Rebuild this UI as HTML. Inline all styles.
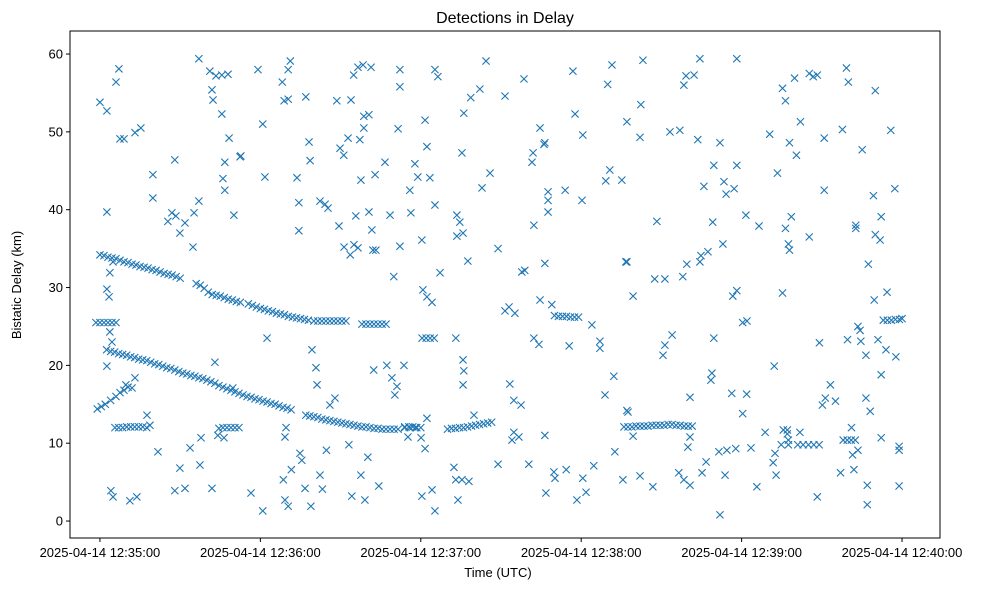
<!DOCTYPE html>
<html><head><meta charset="utf-8"><style>
html,body{margin:0;padding:0;background:#fff;}
svg{display:block;font-family:"Liberation Sans","DejaVu Sans",sans-serif;}
</style></head><body>
<svg id="chart" width="985" height="590" viewBox="0 0 985 590">
<rect x="0" y="0" width="985" height="590" fill="#fff"/>
<text x="505" y="23" text-anchor="middle" font-size="16" fill="#000">Detections in Delay</text>
<g id="marks"></g>
<rect x="70" y="31" width="870" height="507" fill="none" stroke="#000" stroke-width="1"/>
<g id="xticks"></g>
<g id="yticks"></g>
<text x="498" y="577" text-anchor="middle" font-size="13">Time (UTC)</text>
<text transform="translate(21,285) rotate(-90)" text-anchor="middle" font-size="13">Bistatic Delay (km)</text>
</svg>
<script>
// seconds after 12:35:00 UTC, delay in km
const xTickValues = [0, 60, 120, 180, 240, 300];
const xTickLabels = ["2025-04-14 12:35:00","2025-04-14 12:36:00","2025-04-14 12:37:00","2025-04-14 12:38:00","2025-04-14 12:39:00","2025-04-14 12:40:00"];
const yTickValues = [0, 10, 20, 30, 40, 50, 60];
const yTickLabels = ["0","10","20","30","40","50","60"];

const trackA = [[0,34.2],[1.5,34.1],[3,33.9],[4.5,33.8],[6,33.7],[7.5,33.5],[9,33.3],[10.5,33.2],[12,33.0],[13.5,32.9],[15,32.7],[16.5,32.6],[18,32.5],[19.5,32.3],[21,32.2],[22.5,32.0],[24,31.8],[25.5,31.7],[27,31.6],[28.5,31.4],[30,31.2],[36,30.5],[37.5,30.3],[39,29.9],[40.5,29.4],[42,29.1],[43.5,29.0],[45,28.9],[46.5,28.7],[48,28.5],[49.5,28.4],[51,28.2],[52.5,28.1],[55.5,27.9],[57,27.7],[58.5,27.5],[60,27.3],[61.5,27.2],[63,27.0],[64.5,26.9],[66,26.7],[67.5,26.6],[69,26.5],[70.5,26.3],[72,26.2],[73.5,26.1],[75,26.0],[76.5,25.9],[78,25.8],[80,25.7],[81.5,25.7],[83,25.7],[84.5,25.7],[86,25.7],[87.5,25.7],[89,25.7],[90.5,25.7],[92,25.7],[98,25.3],[99.5,25.3],[101,25.3],[102.5,25.3],[104,25.3],[105.5,25.3],[107,25.3]];
const trackB = [[2.5,22.0],[4,21.8],[5.5,21.7],[7,21.5],[8.5,21.4],[10,21.3],[11.5,21.1],[13,21.0],[14.5,20.8],[16,20.7],[17.5,20.6],[19,20.4],[20.5,20.2],[22,20.1],[23.5,19.9],[25,19.7],[26.5,19.6],[28,19.4],[29.5,19.2],[31,19.0],[32.5,18.9],[34,18.7],[35.5,18.6],[37,18.4],[38.5,18.3],[40,18.1],[41.5,17.9],[43,17.7],[44.5,17.4],[46,17.2],[47.5,17.0],[49,16.8],[50.5,16.6],[52,16.4],[53.5,16.2],[55,16.0],[56.5,15.9],[58,15.7],[59.5,15.6],[61,15.4],[62.5,15.3],[64,15.1],[65.5,15.0],[67,14.8],[68.5,14.6],[70,14.5],[71.5,14.3],[77,13.6],[78.5,13.5],[80,13.4],[81.5,13.3],[83,13.1],[84.5,13.0],[86,12.9],[87.5,12.8],[89,12.7],[90.5,12.6],[92,12.5],[93.5,12.4],[95,12.3],[96.5,12.2],[98,12.1],[99.5,12.1],[101,12.0],[102.5,11.9],[104,11.9],[105.5,11.8],[107,11.8],[108.5,11.8],[110,11.8],[111.5,11.8],[114,12.1],[115.5,12.1],[117,12.1],[118.5,12.0]];
const clusters = [[-1.5,25.5],[0,25.5],[1.5,25.5],[3,25.5],[4.5,25.5],[6,25.5],[-1,14.4],[0.5,14.7],[2,15.0],[4,15.5],[6,16.0],[7.5,16.5],[9,16.8],[10.5,17.2],[5.6,12],[7,12],[8.5,12],[10,12.1],[11.5,12.1],[13,12.1],[14.5,12.1],[16,12.1],[17.5,12.0],[44.5,11.9],[46,12],[47.5,12],[49,12],[50.5,12],[52,12],[130,11.8],[131.5,11.9],[133,11.9],[134.5,12.0],[136,12.0],[137.5,12.1],[139,12.2],[140.5,12.3],[142,12.4],[143.5,12.5],[145,12.6],[146.5,12.7],[170,26.4],[171.5,26.3],[173,26.3],[174.5,26.3],[176,26.2],[177.5,26.2],[179,26.2],[196,12.1],[197.5,12.1],[199,12.1],[200.5,12.2],[202,12.2],[203.5,12.2],[205,12.2],[206.5,12.3],[208,12.3],[209.5,12.3],[211,12.3],[212.5,12.4],[214,12.4],[215.5,12.3],[217,12.3],[218.5,12.2],[220,12.2],[221.5,12.2],[261,9.8],[263,9.8],[265,9.8],[267,9.8],[269,9.8],[278,10.4],[279.5,10.4],[281,10.4],[282.5,10.4],[293,25.8],[294.5,25.8],[296,25.8],[297.5,25.9],[299,25.9],[300,26.0],[120.5,23.5],[122,23.5],[123.5,23.5],[125,23.5],[114,12],[116,12],[118,12],[120,12]];
const scatterHigh = [[0,53.8],[2.6,52.7],[6,56.4],[7.1,58.1],[7.5,49.1],[9,49.1],[13.1,49.9],[15.3,50.5],[19.8,44.5],[19.8,41.5],[2.6,39.7],[26.9,39.6],[28.4,39.2],[25.4,38.5],[28,46.4],[29.9,37],[31.8,38.3],[35.2,39.6],[37,41.1],[34.8,35.2],[37,59.4],[41.1,57.8],[41.9,55.4],[42.3,54.1],[43.4,57.2],[45.6,57.3],[47.9,57.4],[45.6,52.3],[46.7,46.1],[46,44],[46.7,42.5],[48.3,49.2],[50.1,39.3],[52.7,46.9],[52.4,46.8],[59.1,58],[60.9,51],[61.7,44.2],[68.2,56.4],[68.9,54],[70.4,54.2],[71.2,59.1],[70.4,58],[73.7,44.1],[77,54.5],[78.2,48.7],[78.6,46.3],[74.4,40.9],[74.4,37.3],[82.3,41.1],[84.2,40.7],[85.3,40.2],[88.6,54],[93.9,54.1],[94.9,57.3],[96.5,58.3],[98.4,58.6],[101.4,58.3],[91.2,47],[89.8,47.9],[92.8,49.2],[97.2,49],[100.6,52.2],[98.7,52],[98.7,50.5],[102.9,44.5],[106.6,46.1],[97.6,43.8],[95.7,39.2],[100.6,39.7],[101.7,37.4],[95,35.5],[96.5,35.1],[102.1,34.8],[103.2,34.8],[89.4,37.9],[91.3,35.2],[93.6,34.2],[111.5,50.4],[112.2,55.8],[112.2,58],[115.9,42.5],[117.8,45.9],[116.3,39.6],[118.9,44.2],[108.5,39.3],[109.9,31.4],[112.2,35.3],[120.4,36.1],[121.6,51.5],[125.3,58],[126.4,57.1],[122.3,48.1],[123.4,44.1],[125.3,40.6],[127.2,31.9],[122.3,28.8],[120.8,29.7],[124.2,28.1],[133.5,36.6],[133.5,39.3],[134.6,38.4],[135.8,37],[137.6,33.4],[135.4,47.3],[136.1,52.4],[138.7,54.4],[142.1,55.5],[144.4,59.1],[142.9,42.8],[145.9,44.7],[148.9,35],[158.6,56.8],[151.5,54.6],[164.6,50.5],[166.1,48.4],[166.4,48.6],[162,47.3],[161.6,46.1],[162.3,38],[167.6,42.3],[167.6,41.2],[167.6,39.7],[174,42.5],[176.9,57.8],[180.6,49.6],[177.7,52.3],[180.3,41.2],[157.8,32],[158.9,32.2],[164.6,28.4],[166.4,33.1],[169,27.8],[153,27.5],[155.2,26.7],[151.5,27],[189.2,43.7],[190.7,45.1],[189.9,56.1],[191.5,58.6],[195.2,43.8],[197.1,51.3],[202,49.3],[203.1,59.2],[202.3,53.5],[208.3,38.5],[213.2,50],[216.9,50.2],[218,31.4],[211.3,31.1],[207.5,31.1],[197.1,33.3],[196.7,33.3],[199.4,28.9],[224.4,59.4],[219.2,57.2],[222.2,57.3],[218.4,56],[223.6,49],[231.9,48.6],[238.2,59.4],[238.2,45.7],[233.4,43.6],[234.2,42],[237.2,42.7],[229.6,45.7],[225.9,43],[224.8,34.1],[227.4,34.6],[224.4,33.3],[219.5,33],[229.2,38.4],[233,35.6],[241.6,39.3],[246.5,37.9],[236.7,28.9],[238.2,29.6],[240.4,25.5],[242,25.7],[250.5,49.7],[253.4,44.7],[255.3,55.6],[256.4,54],[259.8,56.9],[257.9,48.6],[262,51.3],[260.5,47],[265.3,57.5],[266.8,57.1],[268.3,57.3],[270.9,49.2],[270.9,42.5],[277.7,50.3],[279.2,58.2],[279.9,56.4],[285.1,47.7],[290,55.3],[287.4,33],[289.3,41.8],[290,36.8],[291.8,36.1],[292.2,39.1],[294.4,29.4],[295.8,50.2],[297.3,42.7],[256.4,37.6],[257.5,35.6],[257.9,34.8],[258.6,39.1],[265.3,36.5],[255.3,29.3],[282.7,37.6],[282.7,38],[289.6,28.4],[283.5,25],[284.3,24.5],[286.5,21.3],[2.6,29.8],[3.4,28.8],[3.7,31.9],[4.9,33.3],[2.6,19.9],[4.5,23],[3.7,24.3]];
const scatterLow = [[4.1,3.9],[4.9,3.1],[11.2,2.6],[13.8,3.1],[9.7,17.5],[12,17.1],[13.1,18.4],[18.7,12.3],[17.6,13.6],[21.7,8.9],[28,3.9],[31.8,4.2],[29.9,6.8],[33.7,9.4],[37.4,7.2],[37.8,10.7],[41.9,4.2],[43,20.4],[49.7,17.1],[44.1,11],[46.4,10.7],[56.5,3.6],[60.9,1.3],[62.5,23.5],[69.2,10.8],[69.6,12],[69.2,2.7],[70.4,1.9],[68.6,5.3],[71.6,6.6],[74.8,8.7],[75.5,7.8],[76.7,4.2],[78.9,1.9],[80.8,19.7],[82.3,5.9],[83.2,4.1],[84.7,9.1],[79.3,22],[81.2,17.5],[86,14.9],[87.9,15.8],[93.1,9.8],[94.2,3.2],[97.6,5.9],[99.1,2.7],[100.2,8.2],[102.4,19.4],[104.3,4.5],[107.3,20],[109.2,18.4],[111.1,17.3],[110.3,16.2],[113.7,20],[115.2,10.8],[120.4,3.2],[124.2,4],[125.3,1.3],[120.1,10.7],[121.6,9.3],[122.3,13.2],[133.1,23.5],[135.8,20.7],[135.8,17.5],[132.4,6.9],[133.1,5.3],[133.9,2.7],[135.4,5.3],[138,5.1],[136.1,19.3],[139.9,13.6],[148.9,7.3],[153.3,17.6],[154.8,15.5],[157.5,14.9],[154.8,11.4],[156.7,10.8],[154.1,10.4],[160.4,7.3],[162.3,23.5],[164.2,22.7],[166.4,11],[166.8,3.6],[169.8,6.3],[170.2,5.5],[175.5,22.5],[174.4,6.6],[178.4,2.7],[181.8,3.7],[180.6,5.5],[184.7,7.1],[184,25.2],[187,23.1],[187,22.2],[188.9,16.2],[192.2,18.6],[192.6,8.9],[195.6,5.3],[197.5,14],[197.1,14.2],[199.4,10.9],[202,5.8],[206.8,4.4],[210.6,21.3],[211.3,22.6],[214,23.9],[216.5,6.2],[218.4,5.3],[220.7,4.6],[219.9,9.5],[220.7,10.8],[220.7,15.9],[225.2,6.2],[226.7,7.6],[228.5,18.1],[231.5,8.9],[228.9,19],[229.6,23.5],[231.9,0.8],[233.8,5.9],[234.5,9.1],[236.3,16.4],[237.8,9.3],[240.4,13.8],[241.9,16.3],[243.5,9.4],[245.7,4.4],[248.8,11.4],[252.2,19.9],[251.8,7.5],[252.9,5.9],[252.5,8.7],[254.8,9.8],[255.6,11.7],[257.1,11.7],[257.5,9.8],[257.5,10.4],[257.1,11.2],[261.8,11.4],[268.3,3.1],[269.1,22.9],[270.2,14.9],[271.3,15.8],[273.2,17.5],[275.1,15.4],[277,6.2],[281.1,12],[281.5,8.5],[283.5,9.1],[282,6.6],[286.5,15.8],[287,4.6],[287,2.1],[288.1,14.1],[291,23.3],[292.2,18.8],[292.2,10.7],[294,22],[297.7,21.1],[298.9,9.6],[298.9,9.1],[298.9,4.5],[284.6,23.1],[279.6,23.3]];

const X0 = 70, X1 = 940, Y0 = 538, Y1 = 31;
const tMin = -11.2, tMax = 314.2, dMin = -2.18, dMax = 62.96;
function xScale(t){ return X0 + (t - tMin) / (tMax - tMin) * (X1 - X0); }
function yScale(d){ return Y0 - (d - dMin) / (dMax - dMin) * (Y0 - Y1); }
const NS = "http://www.w3.org/2000/svg";

const marks = document.getElementById('marks');
const groups = [trackA, trackB, clusters, scatterHigh, scatterLow];
groups.forEach(function(g){
  g.forEach(function(p){
    const cx = xScale(p[0]), cy = yScale(p[1]), r = 3.6;
    const path = document.createElementNS(NS, 'path');
    path.setAttribute('d', 'M'+(cx-r)+' '+(cy-r)+'L'+(cx+r)+' '+(cy+r)+'M'+(cx-r)+' '+(cy+r)+'L'+(cx+r)+' '+(cy-r));
    path.setAttribute('stroke', '#1f77b4');
    path.setAttribute('stroke-width', '1.1');
    path.setAttribute('fill', 'none');
    
    
    marks.appendChild(path);
  });
});

const xg = document.getElementById('xticks');
xTickValues.forEach(function(v, i){
  const x = xScale(v);
  const ln = document.createElementNS(NS, 'line');
  ln.setAttribute('x1', x); ln.setAttribute('x2', x);
  ln.setAttribute('y1', Y0); ln.setAttribute('y2', Y0 + 4);
  ln.setAttribute('stroke', '#000');
  
  
  xg.appendChild(ln);
  const tx = document.createElementNS(NS, 'text');
  tx.setAttribute('x', x); tx.setAttribute('y', Y0 + 19);
  tx.setAttribute('text-anchor', 'middle');
  tx.setAttribute('font-size', '13');
  tx.textContent = xTickLabels[i];
  
  
  xg.appendChild(tx);
});

const yg = document.getElementById('yticks');
yTickValues.forEach(function(v, i){
  const y = yScale(v);
  const ln = document.createElementNS(NS, 'line');
  ln.setAttribute('x1', X0 - 4); ln.setAttribute('x2', X0);
  ln.setAttribute('y1', y); ln.setAttribute('y2', y);
  ln.setAttribute('stroke', '#000');
  
  
  yg.appendChild(ln);
  const tx = document.createElementNS(NS, 'text');
  tx.setAttribute('x', X0 - 7); tx.setAttribute('y', y + 4.5);
  tx.setAttribute('text-anchor', 'end');
  tx.setAttribute('font-size', '13');
  tx.textContent = yTickLabels[i];
  
  
  yg.appendChild(tx);
});
</script>
</body></html>
